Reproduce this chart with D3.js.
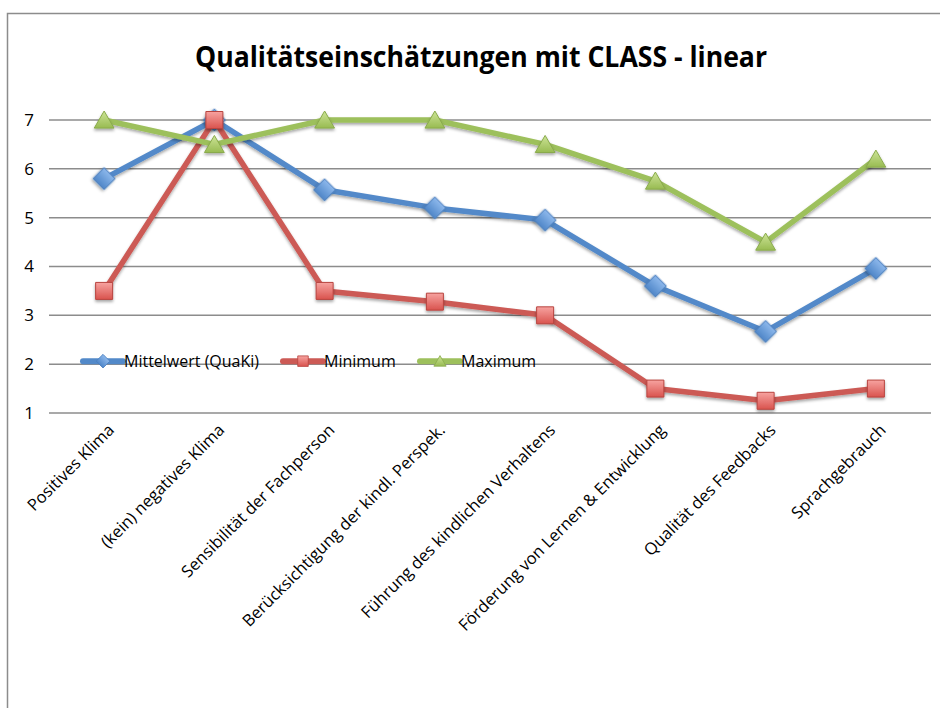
<!DOCTYPE html>
<html lang="de">
<head>
<meta charset="UTF-8">
<title>Qualitätseinschätzungen mit CLASS</title>
<script src="https://cdnjs.cloudflare.com/ajax/libs/d3/7.8.4/d3.min.js"></script>
<style>
  body { margin: 0; background: #fff; }
  svg { display: block; font-family: "Open Sans", "Noto Sans", sans-serif; }
</style>
</head>
<body>
<div class="chart"></div>
<script>
// data
const categories = [
  "Positives Klima",
  "(kein) negatives Klima",
  "Sensibilität der Fachperson",
  "Berücksichtigung der kindl. Perspek.",
  "Führung des kindlichen Verhaltens",
  "Förderung von Lernen & Entwicklung",
  "Qualität des Feedbacks",
  "Sprachgebrauch"
];
const mittelwert = [5.8, 7.0, 5.57, 5.2, 4.95, 3.6, 2.67, 3.96];
const minimum = [3.5, 7.0, 3.5, 3.28, 3.0, 1.5, 1.25, 1.5];
const maximum = [7.0, 6.5, 7.0, 7.0, 6.5, 5.75, 4.5, 6.2];
const yTicks = [1, 2, 3, 4, 5, 6, 7];
const seriesNames = ["Mittelwert (QuaKi)", "Minimum", "Maximum"];

const w = 940, h = 708;
const padLeft = 49, padRight = 931, padTop = 120, padBottom = 413;

const svg = d3.select(".chart").append("svg")
  .attr("width", w).attr("height", h);

const defs = svg.append("defs");
const shadow = defs.append("filter").attr("id", "shadow")
  .attr("x", "-50%").attr("y", "-50%").attr("width", "200%").attr("height", "200%");
shadow.append("feDropShadow").attr("dx", 0).attr("dy", 2)
  .attr("stdDeviation", 1.4).attr("flood-color", "#000").attr("flood-opacity", 0.35);

function grad(id, c1, c2) {
  const g = defs.append("linearGradient").attr("id", id)
    .attr("x1", 0).attr("y1", 0).attr("x2", 0).attr("y2", 1);
  g.append("stop").attr("offset", "0%").attr("stop-color", c1);
  g.append("stop").attr("offset", "100%").attr("stop-color", c2);
}
grad("gBlue", "#8db8ec", "#4f86c8");
grad("gRed", "#f7a3a0", "#d9534e");
grad("gGreen", "#cde497", "#98bb52");

// chart frame
svg.append("rect")
  .attr("x", 7.5).attr("y", 13.5).attr("width", 960).attr("height", 720)
  .attr("fill", "none").attr("stroke", "#8c8c8c").attr("stroke-width", 1.5);

// title
svg.append("text")
  .attr("x", 481).attr("y", 67)
  .attr("text-anchor", "middle")
  .attr("font-size", 29).attr("font-weight", "bold")
  .attr("textLength", 572).attr("lengthAdjust", "spacingAndGlyphs")
  .text("Qualitätseinschätzungen mit CLASS - linear");

const x = d3.scaleBand().domain(categories).range([padLeft, padRight]);
const y = d3.scaleLinear().domain([1, 7]).range([padBottom, padTop]);

// gridlines
svg.append("g").selectAll("line").data(yTicks).join("line")
  .attr("x1", padLeft).attr("x2", padRight)
  .attr("y1", d => y(d)).attr("y2", d => y(d))
  .attr("stroke", "#8c8c8c").attr("stroke-width", 1.5);

// y axis
const yAxis = svg.append("g")
  .attr("transform", "translate(38,0)")
  .call(d3.axisLeft(y).tickValues(yTicks).tickFormat(d3.format("d")).tickSize(0).tickPadding(4));
yAxis.select(".domain").remove();
yAxis.selectAll("text").attr("font-size", 17).attr("fill", "#000")
  .attr("font-family", "Open Sans, sans-serif");

// x axis labels
const xAxis = svg.append("g")
  .attr("transform", `translate(0,${padBottom + 14})`)
  .call(d3.axisBottom(x).tickSize(0).tickPadding(0));
xAxis.select(".domain").remove();
xAxis.selectAll("text")
  .attr("font-size", 16.5).attr("fill", "#000")
  .attr("font-family", "Open Sans, sans-serif")
  .attr("text-anchor", "end")
  .attr("dy", "0.35em").attr("dx", "0")
  .attr("transform", "translate(7,0) rotate(-45)");

const cx = d => x(d) + x.bandwidth() / 2;

const series = [
  { name: seriesNames[0], values: mittelwert, color: "#5289c9", fill: "url(#gBlue)", stroke: "#4a7fbf", shape: "diamond" },
  { name: seriesNames[1], values: minimum, color: "#cc5a55", fill: "url(#gRed)", stroke: "#b8443f", shape: "square" },
  { name: seriesNames[2], values: maximum, color: "#9dc05c", fill: "url(#gGreen)", stroke: "#8aab4c", shape: "triangle" }
];

function markerPath(shape, s) {
  if (shape === "diamond") return d3.symbol(d3.symbolSquare, s * s * 0.5)();
  if (shape === "square") return d3.symbol(d3.symbolSquare, s * s)();
  return `M0,${-s * 0.5}L${s * 0.55},${s * 0.45}L${-s * 0.55},${s * 0.45}Z`;
}
function markerRot(shape) { return shape === "diamond" ? " rotate(45)" : ""; }
const markerSize = { diamond: 22, square: 17, triangle: 18 };

const line = d3.line().x((d, i) => cx(categories[i])).y(d => y(d));

series.forEach(s => {
  const g = svg.append("g");
  g.append("path").datum(s.values)
    .attr("d", line)
    .attr("fill", "none").attr("stroke", s.color)
    .attr("stroke-width", 5.5).attr("stroke-linejoin", "round")
    .attr("filter", "url(#shadow)");
  g.selectAll("path.m").data(s.values).join("path")
    .attr("class", "m")
    .attr("d", markerPath(s.shape, markerSize[s.shape]))
    .attr("transform", (d, i) => `translate(${cx(categories[i])},${y(d)})${markerRot(s.shape)}`)
    .attr("fill", s.fill).attr("stroke", s.stroke).attr("stroke-width", 1)
    .attr("filter", "url(#shadow)");
});

// legend inside plot
const legendPos = [83, 283, 420];
const legend = svg.append("g").attr("transform", `translate(0,${y(2) - 3})`);
series.forEach((s, i) => {
  const lx = legendPos[i];
  const g = legend.append("g").attr("transform", `translate(${lx},0)`);
  g.append("line").attr("x1", 0).attr("x2", 40).attr("y1", 0).attr("y2", 0)
    .attr("stroke", s.color).attr("stroke-width", 6).attr("stroke-linecap", "round");
  g.append("path")
    .attr("d", markerPath(s.shape, markerSize[s.shape] * 0.62))
    .attr("transform", `translate(20,0)${markerRot(s.shape)}`)
    .attr("fill", s.fill).attr("stroke", s.stroke).attr("stroke-width", 0.8);
  g.append("text").attr("x", 41).attr("y", 0).attr("dy", "0.35em")
    .attr("font-size", 16).text(s.name);
});
</script>
</body>
</html>
